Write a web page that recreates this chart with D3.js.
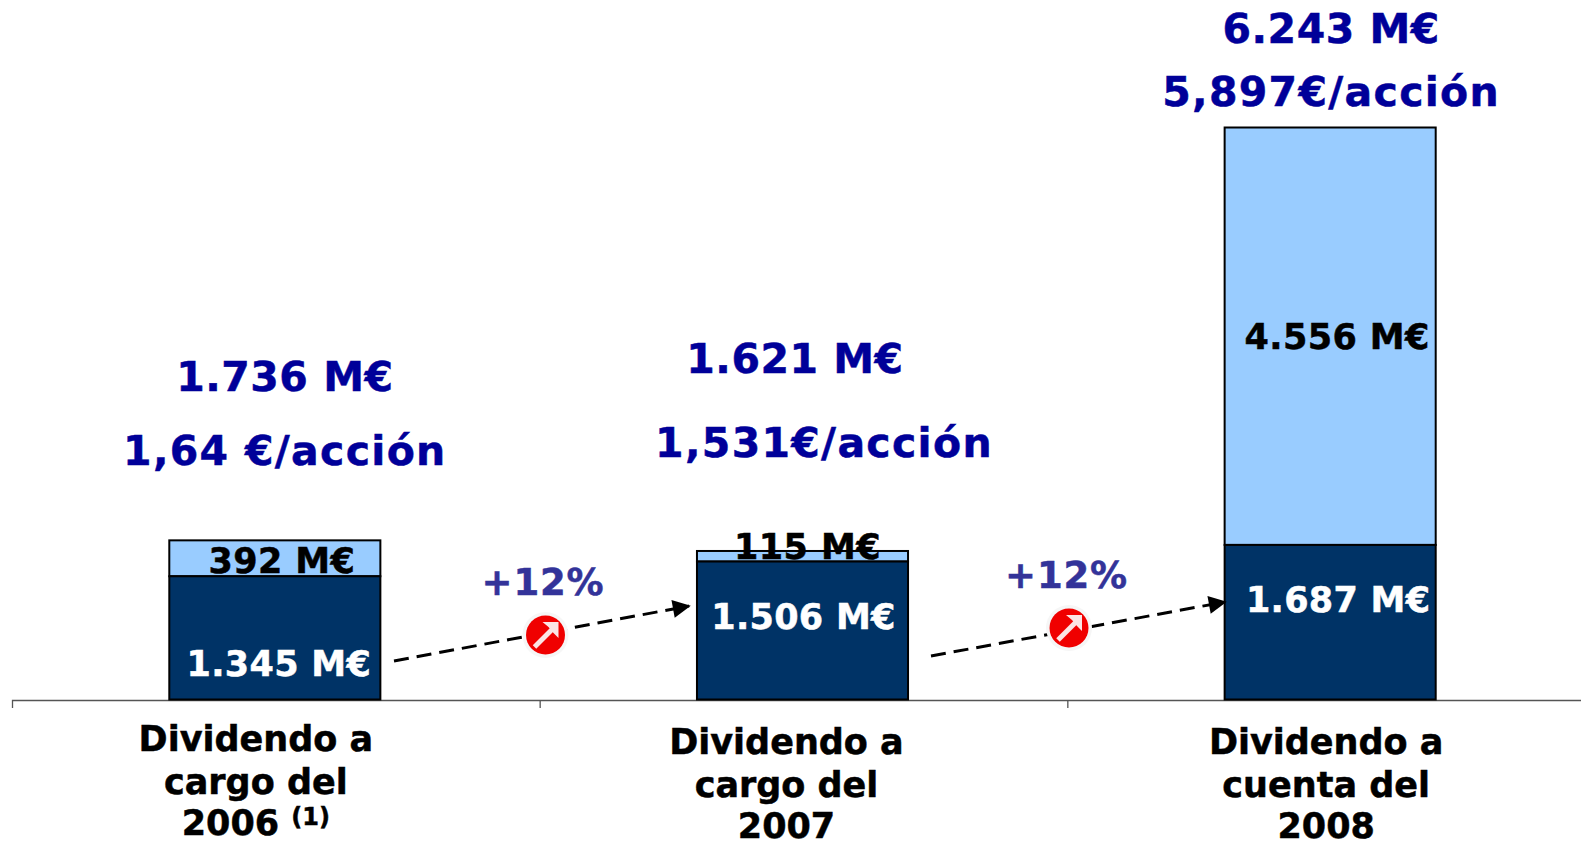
<!DOCTYPE html>
<html><head><meta charset="utf-8">
<script src="https://cdn.jsdelivr.net/npm/d3@7"></script>
<style>html,body{margin:0;background:#fff}svg{display:block}text{font-family:"DejaVu Sans",Verdana,sans-serif;font-weight:700;stroke-width:.5px;paint-order:stroke}</style>
</head><body><svg id="c" width="1581" height="841"></svg>
<script>
const categories = ["2006","2007","2008"];
const baseValues = [1345,1506,1687];
const extraValues = [392,115,4556];
const totals = [1736,1621,6243];
const baseLabels = ["1.345 M€","1.506 M€","1.687 M€"];
const extraLabels = ["392 M€","115 M€","4.556 M€"];
const totalLabels = ["1.736 M€","1.621 M€","6.243 M€"];
const perShareLabels = ["1,64 €/acción","1,531€/acción","5,897€/acción"];
const growthLabels = ["+12%","+12%"];
const categoryLines = [["Dividendo a","cargo del","2006"],["Dividendo a","cargo del","2007"],["Dividendo a","cuenta del","2008"]];

const svg = d3.select("#c");
const x = d3.scaleBand().domain(categories).range([11,1594]).paddingInner(0.6).paddingOuter(0.3);
const y = d3.scaleLinear().domain([0,6243]).range([699.5,127.5]);
const cx = c => x(c)+x.bandwidth()/2;
const step = x.step();

// axis
const ax = svg.append("g").attr("stroke","#555").attr("stroke-width",1.3).attr("fill","none");
ax.append("path").attr("d",`M12.5,708V700.5H1581`);
[1,2].forEach(i=>ax.append("line").attr("x1",12.5+step*i).attr("x2",12.5+step*i).attr("y1",700).attr("y2",708));

// bars
const rect=(c,v0,v1,fill)=>svg.append("rect").attr("x",x(c)).attr("width",x.bandwidth())
  .attr("y",y(v1)).attr("height",y(v0)-y(v1)).attr("fill",fill).attr("stroke","#000").attr("stroke-width",2);
categories.forEach((c,i)=>{
  rect(c,baseValues[i],baseValues[i]+extraValues[i],"#99ccff");
  rect(c,0,baseValues[i],"#003366");
});

const T=(s,xp,yp,size,fill,ls)=>svg.append("text").attr("x",xp).attr("y",yp).attr("text-anchor","middle")
  .attr("font-size",size).attr("fill",fill).attr("stroke",fill).attr("letter-spacing",ls||0).text(s);

const totalPos=[[10,390.5,10,465],[-7.5,372.5,21.5,457],[1,42.5,1,105.5]];
categories.forEach((c,i)=>{
  const p=totalPos[i];
  T(totalLabels[i],cx(c)+p[0],p[1],41,"#000099",0.5);
  T(perShareLabels[i],cx(c)+p[2],p[3],41,"#000099",1.3);
});
const segPos=[[7,573,4,675.5],[5,559,1,629],[7,349,8,612]];
categories.forEach((c,i)=>{
  const p=segPos[i];
  T(extraLabels[i],cx(c)+p[0],p[1],35,"#000",0.4);
  T(baseLabels[i],cx(c)+p[2],p[3],35,"#fff",0.3);
});

// category labels
const catPos=[[-19,751],[-16,754],[-4,754]];
const lineGap=[0,43,84];
categories.forEach((c,i)=>categoryLines[i].forEach((l,j)=>{
  const t=T(l,cx(c)+catPos[i][0],catPos[i][1]+lineGap[j],35,"#000",0);
  if(i===0&&j===2){t.append("tspan").text(" ");t.append("tspan").attr("font-size",24).attr("dy",-10).text("(1)");}
}));

// growth arrows
const defs=svg.append("defs");
defs.append("marker").attr("id","ah").attr("viewBox","0 0 10 10").attr("refX",9).attr("refY",5)
  .attr("markerWidth",20).attr("markerHeight",18).attr("markerUnits","userSpaceOnUse").attr("orient","auto")
  .append("path").attr("d","M0,0L10,5L0,10Z").attr("fill","#000");
const growth=[{a:[394,661],b:[689,606],c:[545.5,635],t:[543,594.5]},{a:[931,656],b:[1225,602],c:[1069,628],t:[1066.5,587.5]}];
growth.forEach((g,i)=>{
  svg.append("line").attr("x1",g.a[0]).attr("y1",g.a[1]).attr("x2",g.b[0]).attr("y2",g.b[1])
    .attr("stroke","#000").attr("stroke-width",3).attr("stroke-dasharray","15 8").attr("marker-end","url(#ah)");
  T(growthLabels[i],g.t[0],g.t[1],37,"#333399",0.8);
  const k=svg.append("g").attr("transform",`translate(${g.c[0]},${g.c[1]})`);
  k.append("circle").attr("r",23).attr("fill","#f6f6f6");
  k.append("circle").attr("r",19.5).attr("fill","#f00000");
  k.append("path").attr("d","M-11,12L8,-7").attr("stroke","#fbe4e4").attr("stroke-width",5).attr("fill","none");
  k.append("path").attr("d","M-3,-13H13V3L8,-2L3,-8Z").attr("fill","#fbe4e4");
});
</script></body></html>
